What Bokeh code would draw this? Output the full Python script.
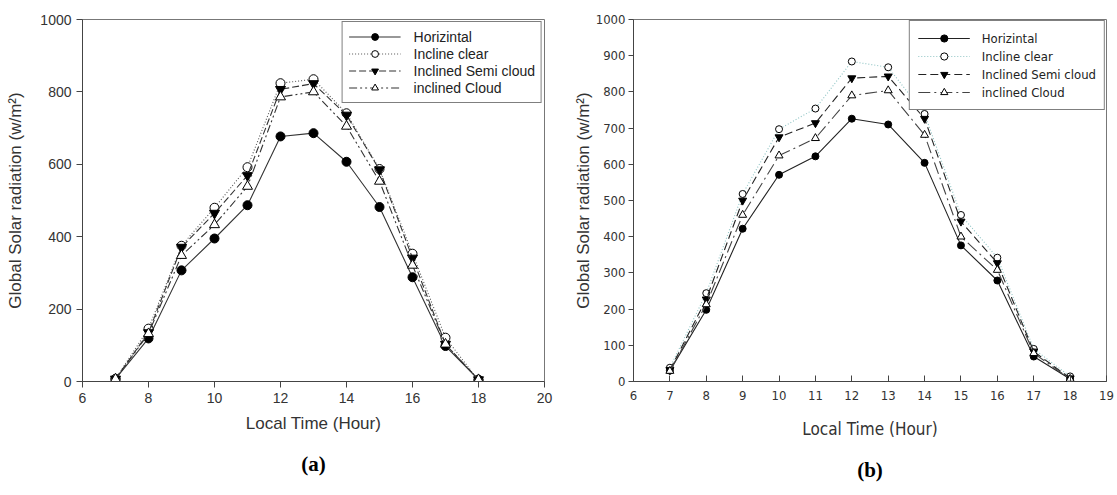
from bokeh.plotting import figure
from bokeh.models import Range1d, FixedTicker, Legend, LegendItem, Title
from bokeh.layouts import row
from bokeh.embed import file_html
from bokeh.resources import INLINE

hours = [7, 8, 9, 10, 11, 12, 13, 14, 15, 16, 17, 18]

# panel (a)
a_horizontal = [7, 119, 307, 395, 487, 677, 686, 607, 482, 288, 98, 5]
a_clear = [7, 146, 375, 480, 592, 824, 835, 741, 587, 353, 121, 3]
a_semi = [7, 135, 371, 465, 569, 807, 823, 736, 585, 341, 103, 5]
a_cloud = [7, 132, 348, 433, 539, 786, 800, 705, 553, 321, 103, 5]

# panel (b)
b_horizontal = [30, 198, 422, 571, 622, 726, 710, 604, 376, 279, 69, 7]
b_clear = [38, 244, 518, 697, 754, 884, 868, 739, 460, 342, 90, 14]
b_semi = [32, 227, 500, 675, 714, 838, 843, 726, 442, 327, 83, 9]
b_cloud = [29, 213, 460, 624, 672, 790, 804, 681, 400, 308, 78, 7]

labels = ["Horizintal", "Incline clear", "Inclined Semi cloud", "inclined Cloud"]
a_xticks = [6, 8, 10, 12, 14, 16, 18, 20]
a_yticks = [0, 200, 400, 600, 800, 1000]
b_xticks = list(range(6, 20))
b_yticks = list(range(0, 1001, 100))

YLABEL = "Global Solar radiation (w/m\u00b2)"
XLABEL = "Local Time (Hour)"
NARROW = "DejaVu Sans Condensed, Liberation Sans"


def make_panel(width, left, right, top, xmax, xticks, yticks, series, styles,
               tick_font, label_font, caption, msize, tick_size):
    p = figure(width=width, height=495, x_range=Range1d(6, xmax), y_range=Range1d(0, 1000),
               output_backend="svg", toolbar_location=None,
               min_border_left=left, min_border_right=right,
               min_border_top=top, min_border_bottom=114)
    p.xgrid.visible = False
    p.ygrid.visible = False
    p.outline_line_color = "#777777"
    p.outline_line_width = 1
    p.background_fill_color = "white"
    p.border_fill_color = "white"
    p.xaxis.ticker = FixedTicker(ticks=xticks)
    p.yaxis.ticker = FixedTicker(ticks=yticks)
    for ax in (p.xaxis, p.yaxis):
        ax.axis_line_color = "#444444"
        ax.major_tick_line_color = "#444444"
        ax.minor_tick_line_color = None
        ax.major_label_text_font = tick_font
        ax.major_label_text_font_size = tick_size
        ax.major_label_text_color = "#333333"
        ax.axis_label_text_font_style = "normal"
        ax.axis_label_text_color = "#333333"
        ax.major_tick_in = 0
        ax.major_tick_out = 6
    p.xaxis.axis_label = XLABEL
    p.yaxis.axis_label = YLABEL
    p.xaxis.axis_label_text_font = label_font
    p.yaxis.axis_label_text_font = "Liberation Sans"
    p.xaxis.axis_label_text_font_size = "17px"
    p.yaxis.axis_label_text_font_size = "17px"
    p.yaxis.major_label_standoff = 5
    p.yaxis.axis_label_standoff = 12

    items = []
    for (name, ys), st in zip(zip(labels, series), styles):
        r1 = p.line(hours, ys, line_color=st["color"], line_width=1.1, line_dash=st["dash"])
        r2 = p.scatter(hours, ys, marker=st["marker"], size=st.get("size", msize),
                       fill_color=st["fill"], line_color="black", line_width=1)
        items.append(LegendItem(label=name, renderers=[r1, r2]))
    leg = Legend(items=items, location="top_right")
    leg.label_text_font = label_font
    leg.label_text_font_size = "14px"
    leg.label_text_color = "#222222"
    leg.border_line_color = "black"
    leg.background_fill_color = "white"
    leg.background_fill_alpha = 1
    p.add_layout(leg)
    p.add_layout(Title(text=caption, align="center", text_font="Liberation Serif",
                       text_font_size="21px", text_font_style="bold", text_color="black",
                       standoff=28), "below")
    return p, leg


styles_a = [
    dict(color="#333333", dash="solid", marker="circle", fill="black"),
    dict(color="#555555", dash="1 2", marker="circle", fill="white"),
    dict(color="#333333", dash="7 3", marker="inverted_triangle", fill="black", size=10),
    dict(color="#333333", dash="8 3 2 3 2 3", marker="triangle", fill="white", size=10),
]
pa, lega = make_panel(556, 82, 12, 14, 20, a_xticks, a_yticks,
                      [a_horizontal, a_clear, a_semi, a_cloud], styles_a,
                      "Liberation Sans", "Liberation Sans", "(a)", 9, "14px")
pa.xaxis.major_label_standoff = 5
pa.xaxis.axis_label_standoff = 8
lega.margin = 2
lega.padding = 6
lega.spacing = 0
lega.glyph_width = 52
lega.glyph_height = 17
lega.label_height = 17
lega.label_standoff = 13
lega.label_text_font_size = "14px"

styles_b = [
    dict(color="#222222", dash="solid", marker="circle", fill="black"),
    dict(color="#8fc4c4", dash="1 2", marker="circle", fill="white"),
    dict(color="#222222", dash="8 4", marker="inverted_triangle", fill="black", size=8),
    dict(color="#444444", dash="12 4 2 4", marker="triangle", fill="white", size=8),
]
pb, legb = make_panel(561, 77, 11, 19, 19, b_xticks, b_yticks,
                      [b_horizontal, b_clear, b_semi, b_cloud], styles_b,
                      NARROW, NARROW, "(b)", 7, "13px")
pb.xaxis.major_tick_in = 6
pb.xaxis.major_tick_out = 0
pb.xaxis.major_label_standoff = 9
pb.xaxis.axis_label_standoff = 16
pb.yaxis.major_tick_out = 5
pb.yaxis.major_label_standoff = 3
pb.yaxis.axis_label_standoff = 0
legb.margin = 1
legb.padding = 8
legb.spacing = 0
legb.glyph_width = 52
legb.glyph_height = 18
legb.label_height = 18
legb.label_standoff = 12
legb.label_text_font_size = "13px"
legb.border_line_width = 1.5

layout = row(pa, pb)
open("out.html", "w").write(file_html(layout, INLINE))
